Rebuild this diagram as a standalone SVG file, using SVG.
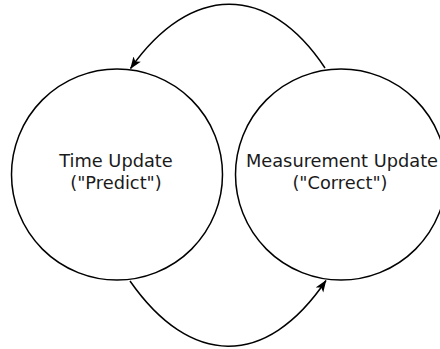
<svg xmlns="http://www.w3.org/2000/svg" width="440" height="349" viewBox="0 0 440 349">
  <style>
    .state { fill: none; stroke: #000; stroke-width: 1.5; }
    .label { font-family: "DejaVu Sans", sans-serif; font-size: 17.8px; fill: #1a1a1a; text-anchor: middle; }
    .edge { fill: none; stroke: #000; stroke-width: 1.5; marker-end: url(#head); }
  </style>
  <defs>
    <marker id="head" viewBox="0 0 12 10" refX="11.5" refY="5" markerWidth="12" markerHeight="10" markerUnits="userSpaceOnUse" orient="auto">
      <path d="M0,0.5 L12,5 L0,9.5 L3,5 Z" fill="#000"/>
    </marker>
  </defs>

  <rect width="440" height="349" fill="#fff"/>

  <g id="time-update">
    <circle class="state" cx="117" cy="174.5" r="105.5"/>
    <text class="label" x="116" y="167">Time Update</text>
    <text class="label" x="116" y="189">("Predict")</text>
  </g>

  <g id="measurement-update">
    <circle class="state" cx="341" cy="174.5" r="105.5"/>
    <text class="label" x="342" y="167">Measurement Update</text>
    <text class="label" x="340" y="189">("Correct")</text>
  </g>

  <g id="connectors">
    <path class="edge" d="M325,68 C268,-18 190,-16 130.5,68.5"/>
    <path class="edge" d="M130,281 C190,367 266,369 326,280.5"/>
  </g>
</svg>
